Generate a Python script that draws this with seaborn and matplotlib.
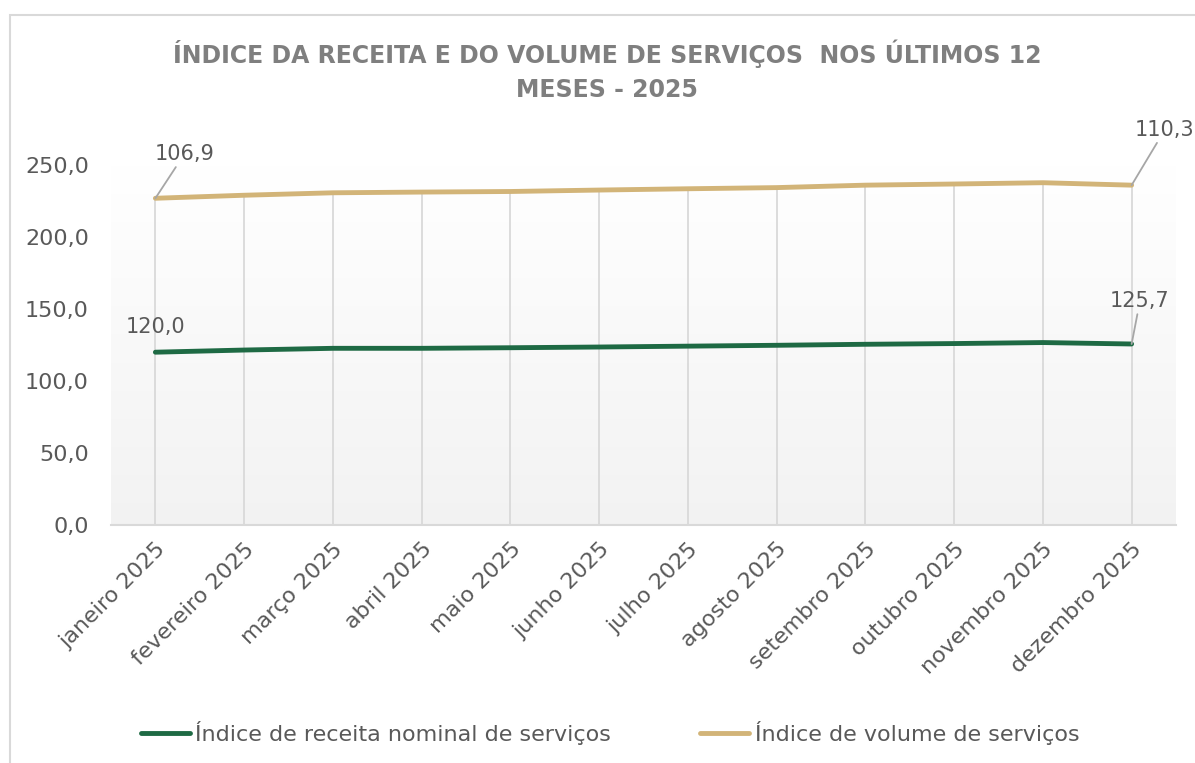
import numpy as np
import pandas as pd
import matplotlib
matplotlib.use("Agg")
import matplotlib.pyplot as plt
from matplotlib.ticker import FuncFormatter
from matplotlib.lines import Line2D
from matplotlib.patches import Rectangle
import seaborn as sns

months = ["janeiro 2025", "fevereiro 2025", "março 2025", "abril 2025", "maio 2025",
          "junho 2025", "julho 2025", "agosto 2025", "setembro 2025", "outubro 2025",
          "novembro 2025", "dezembro 2025"]
receita = [120.0, 121.5, 122.7, 122.7, 123.1, 123.6, 124.2, 124.8, 125.5, 126.0, 126.7, 125.7]
volume = [106.9, 107.5, 108.0, 108.5, 108.5, 109.0, 109.3, 109.5, 110.5, 110.8, 111.0, 110.3]
series_names = ["Índice de receita nominal de serviços", "Índice de volume de serviços"]
title = "ÍNDICE DA RECEITA E DO VOLUME DE SERVIÇOS  NOS ÚLTIMOS 12\nMESES - 2025"

GREEN = "#1e6a44"
GOLD = "#d2b478"
TXT = "#595959"

sns.set_theme(style="white")
plt.rcParams["font.family"] = ["DejaVu Sans"]

x = np.arange(len(months))
stacked = np.array(receita) + np.array(volume)
df = pd.DataFrame({
    "x": np.concatenate([x, x]),
    "y": np.concatenate([receita, stacked]),
    "serie": [series_names[0]] * len(x) + [series_names[1]] * len(x),
})

fig = plt.figure(figsize=(11.95, 7.63), dpi=100)
# chart border
fig.patches.append(Rectangle((10 / 1195, -0.01), 1.2, 1 - 15 / 763 + 0.01, transform=fig.transFigure,
                             fill=False, edgecolor="#d9d9d9", linewidth=1.5))
ax = fig.add_axes([111 / 1195, 1 - 525 / 763, (1176 - 111) / 1195, (525 - 165) / 763])
ax.set_xlim(-0.5, len(months) - 0.5)
ax.set_ylim(0, 250)

# gradient background
grad = np.linspace(0.95, 1.0, 256).reshape(-1, 1)
ax.imshow(np.dstack([grad, grad, grad]), extent=[-0.5, len(months) - 0.5, 0, 250],
          aspect="auto", origin="lower", zorder=0)

# drop lines
ax.vlines(x, 0, stacked, colors="#d9d9d9", linewidth=1.3, zorder=1)

sns.lineplot(data=df, x="x", y="y", hue="serie", palette=[GREEN, GOLD], linewidth=3.5,
             ax=ax, legend=False, zorder=3)

for s in ["top", "right", "left"]:
    ax.spines[s].set_visible(False)
ax.spines["bottom"].set_color("#d9d9d9")
ax.spines["bottom"].set_linewidth(1.5)

ax.set_yticks(np.arange(0, 251, 50))
ax.yaxis.set_major_formatter(FuncFormatter(lambda v, p: f"{v:.1f}".replace(".", ",")))
ax.set_xticks(x)
ax.set_xticklabels(months, rotation=45, ha="right", rotation_mode="anchor")
ax.tick_params(axis="y", labelsize=16, labelcolor=TXT, length=0, pad=16)
ax.tick_params(axis="x", labelsize=16, labelcolor=TXT, length=0, pad=10)
ax.set_xlabel("")
ax.set_ylabel("")

fmt = lambda v: f"{v:.1f}".replace(".", ",")
lab = dict(fontsize=15, color=TXT, annotation_clip=False)
arrow = dict(arrowstyle="-", color="#a6a6a6", lw=1.3, shrinkA=0, shrinkB=0)
ax.annotate(fmt(volume[0]), xy=(x[0], stacked[0]), xytext=(21, 32), textcoords="offset points",
            ha="center", va="center", arrowprops=arrow, **lab)
ax.annotate(fmt(receita[0]), xy=(x[0], receita[0]), xytext=(0, 18), textcoords="offset points",
            ha="center", va="center", **lab)
ax.annotate(fmt(receita[-1]), xy=(x[-1], receita[-1]), xytext=(6, 31), textcoords="offset points",
            ha="center", va="center", arrowprops=arrow, **lab)
ax.annotate(fmt(volume[-1]), xy=(x[-1], stacked[-1]), xytext=(24, 40), textcoords="offset points",
            ha="center", va="center", arrowprops=arrow, **lab)

fig.text(607 / 1195, 1 - 71 / 763, title, ha="center", va="center", fontsize=17,
         fontweight="bold", color="#7f7f7f", linespacing=1.55)

handles = [Line2D([0], [0], color=GREEN, lw=3.5), Line2D([0], [0], color=GOLD, lw=3.5)]
fig.legend(handles, series_names, loc="center", bbox_to_anchor=(610 / 1195, 1 - 733 / 763),
           ncol=2, frameon=False, fontsize=16, labelcolor=TXT, handlelength=2.2,
           handletextpad=0.25, columnspacing=4.0)

fig.savefig("out.png", dpi=100)
